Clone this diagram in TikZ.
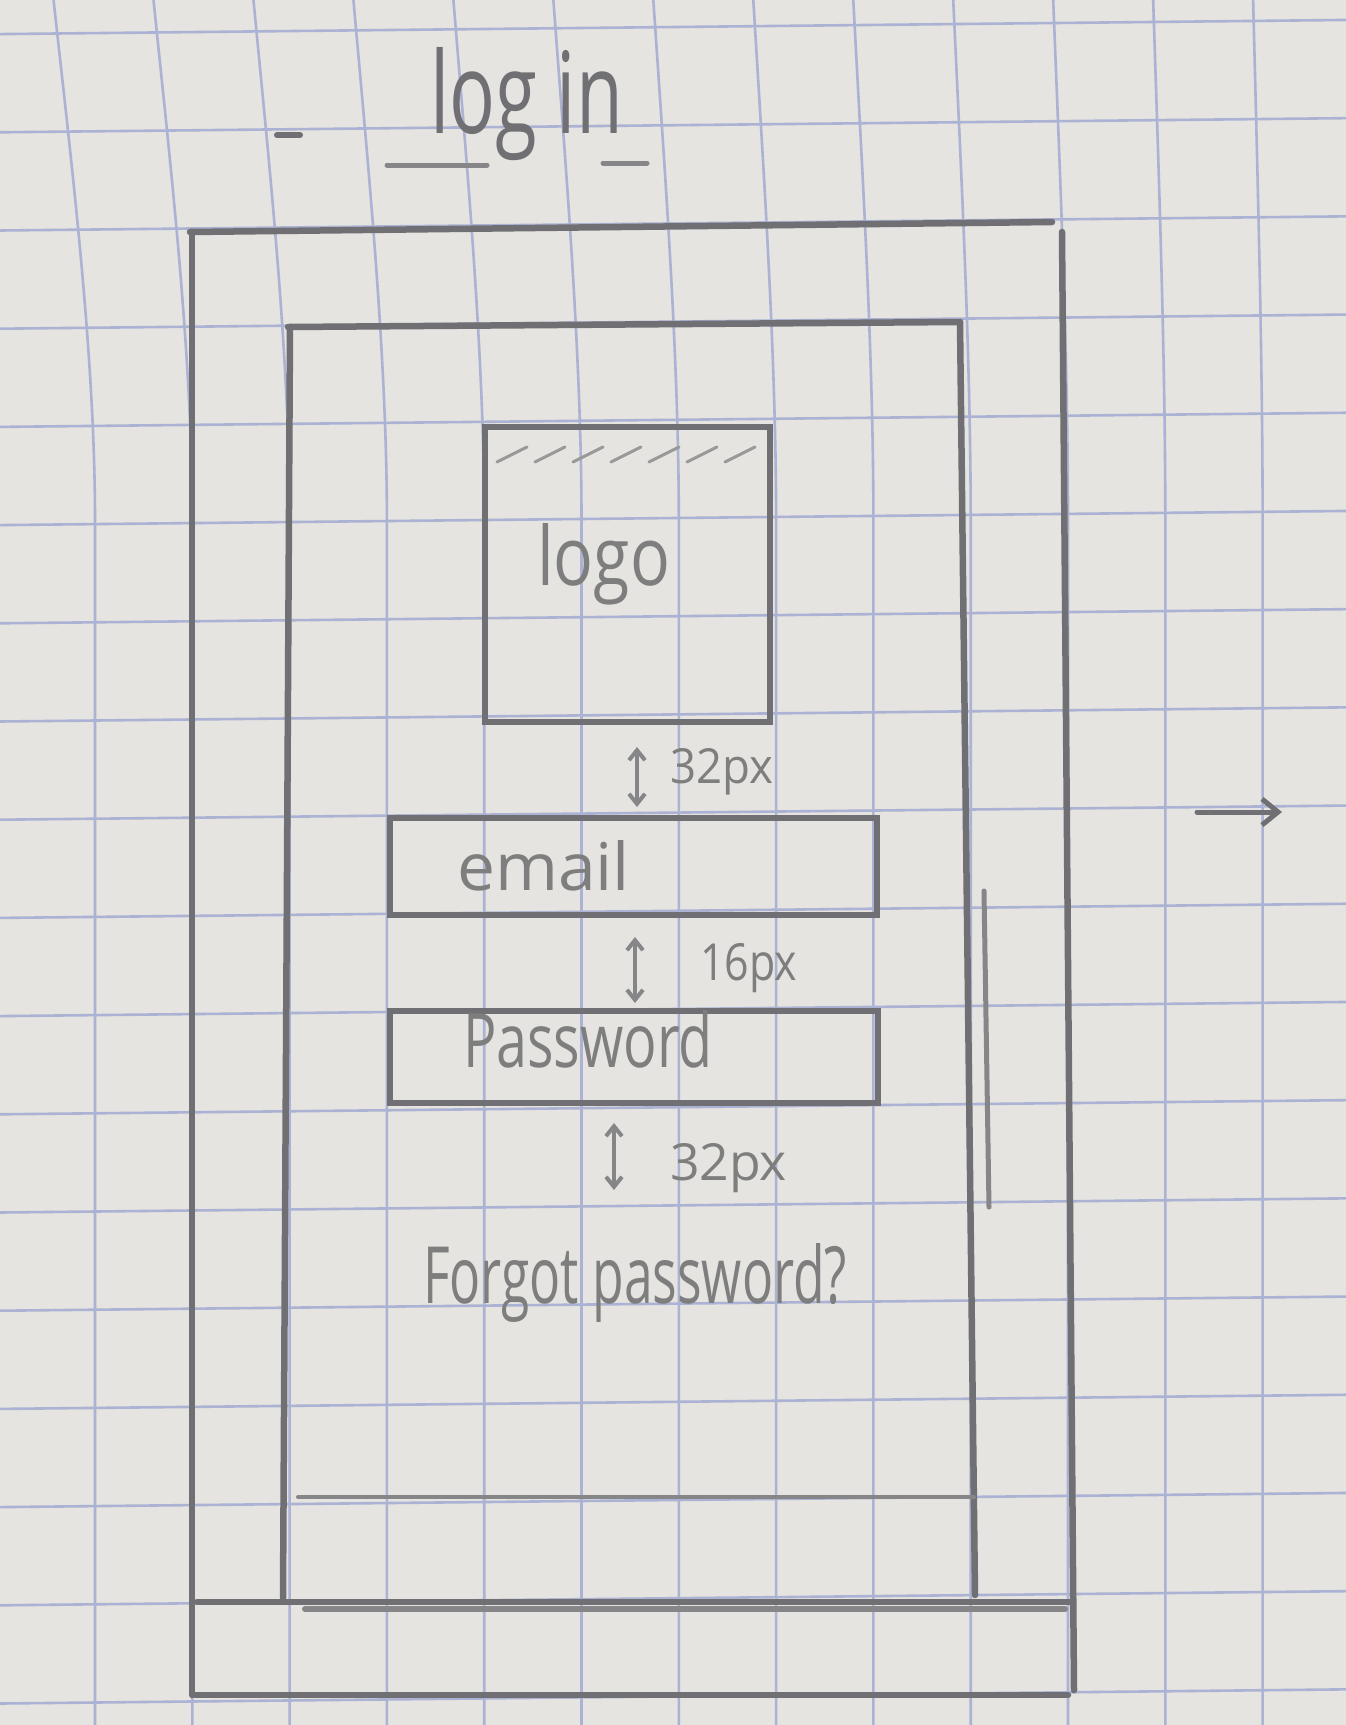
\documentclass[tikz,border=0pt]{standalone}
\usepackage{graphicx}
\usepackage{fontspec}
\setmainfont{Open Sans}
\usetikzlibrary{arrows.meta}
\definecolor{paper}{RGB}{229,228,224}
\definecolor{gridblue}{RGB}{172,178,212}
\definecolor{pencil}{RGB}{112,112,116}
\definecolor{pencillight}{RGB}{134,134,136}
\definecolor{ink}{RGB}{126,126,126}
\newcommand{\hw}[3]{\resizebox{#1pt}{#2pt}{#3}}
\begin{document}
\begin{tikzpicture}[x=1pt,y=-1pt,
  gridline/.style={draw=gridblue,line width=2.6pt},
  pencil/.style={draw=pencil,line width=6.5pt,line cap=round},
  thinpencil/.style={draw=pencillight,line width=4.5pt,line cap=round},
  boxstyle/.style={draw=pencil,line width=6.5pt,rectangle,inner sep=0pt,outer sep=0pt},
  hand/.style={inner sep=0pt,outer sep=0pt,anchor=base west,text=ink},
  dim/.style={draw=pencillight,line width=4pt,line cap=round,
    {Straight Barb[length=10pt,width=16pt]}-{Straight Barb[length=10pt,width=16pt]}},
]
\fill[paper] (0,0) rectangle (1346,1725);
\useasboundingbox (0,0) rectangle (1346,1725);

% paper grid
\foreach \j in {0,...,17}{
  \draw[gridline] (-5,{34.15+98.2*\j}) -- (1351,{19.9+98.2*\j});
}
\foreach \k in {-1,...,13}{
  \pgfmathsetmacro{\xk}{95+97.3*\k}
  \pgfmathsetmacro{\dk}{42-2.7*\k}
  \draw[gridline] ({\xk-\dk},-5) .. controls ({\xk-0.6*\dk},150) and (\xk,350) .. (\xk,520) -- (\xk,1730);
}

% title
\node[hand,text=pencil] (title) at (430,133) {\hw{193}{86}{log in}};
\draw[thinpencil,line width=5pt] (387,165) -- (487,165);
\draw[thinpencil,line width=5pt] (603,163) -- (647,163);
\draw[pencil,line width=6pt] (277,135) -- (300,135);

% outer frame
\draw[pencil] (190,232) -- (1052,222);
\draw[pencil] (192,232) -- (192,1695);
\draw[pencil] (1062,232) -- (1074,1690);
\draw[pencil] (195,1695) -- (1068,1695);

% inner screen
\draw[pencil] (288,327) -- (960,322);
\draw[pencil] (290,327) -- (283,1598);
\draw[pencil] (960,322) -- (975,1595);
\draw[pencil] (197,1602) -- (1071,1602);
\draw[thinpencil,line width=6pt] (305,1609) -- (1065,1609);
\draw[thinpencil,line width=4pt] (298,1497) -- (974,1497);
\draw[thinpencil,line width=5pt] (984,891) -- (989,1207);

% logo box
\node[boxstyle,minimum width=285pt,minimum height=295pt] (logo) at (627.5,574.5) {};
\foreach \i in {0,...,6}{
  \draw[draw=pencillight!80!paper,line width=3pt,line cap=round] ({497+38*\i},462) -- ({527+38*\i},447);
}
\node[hand] (logotext) at (537,585) {\hw{133}{62}{logo}};

% email and password fields
\node[boxstyle,minimum width=487pt,minimum height=97pt] (email) at (633.5,866.5) {};
\node[hand] (emailtext) at (457,890) {\hw{173}{50}{email}};
\node[boxstyle,minimum width=488pt,minimum height=92pt] (password) at (634,1057) {};
\node[hand] (passwordtext) at (463,1067) {\hw{250}{57}{Password}};

% spacing markers
\coordinate (a1t) at (637,747);
\coordinate (a1b) at (637,807);
\draw[dim] (a1t) -- (a1b);
\node[hand] (gap1) at (670,783) {\hw{103}{35}{32px}};

\coordinate (a2t) at (635,937);
\coordinate (a2b) at (635,1003);
\draw[dim] (a2t) -- (a2b);
\node[hand] (gap2) at (700,980) {\hw{97}{37}{16px}};

\coordinate (a3t) at (614,1123);
\coordinate (a3b) at (614,1190);
\draw[dim] (a3t) -- (a3b);
\node[hand] (gap3) at (670,1180) {\hw{117}{37}{32px}};

\node[hand] (forgot) at (423,1303) {\hw{424}{60}{Forgot password?}};

% arrow on the right
\coordinate (rs) at (1197,812);
\coordinate (re) at (1282,812);
\draw[pencil,line width=5pt,-{Straight Barb[length=16pt,width=26pt]}] (rs) -- (re);
\end{tikzpicture}
\end{document}
